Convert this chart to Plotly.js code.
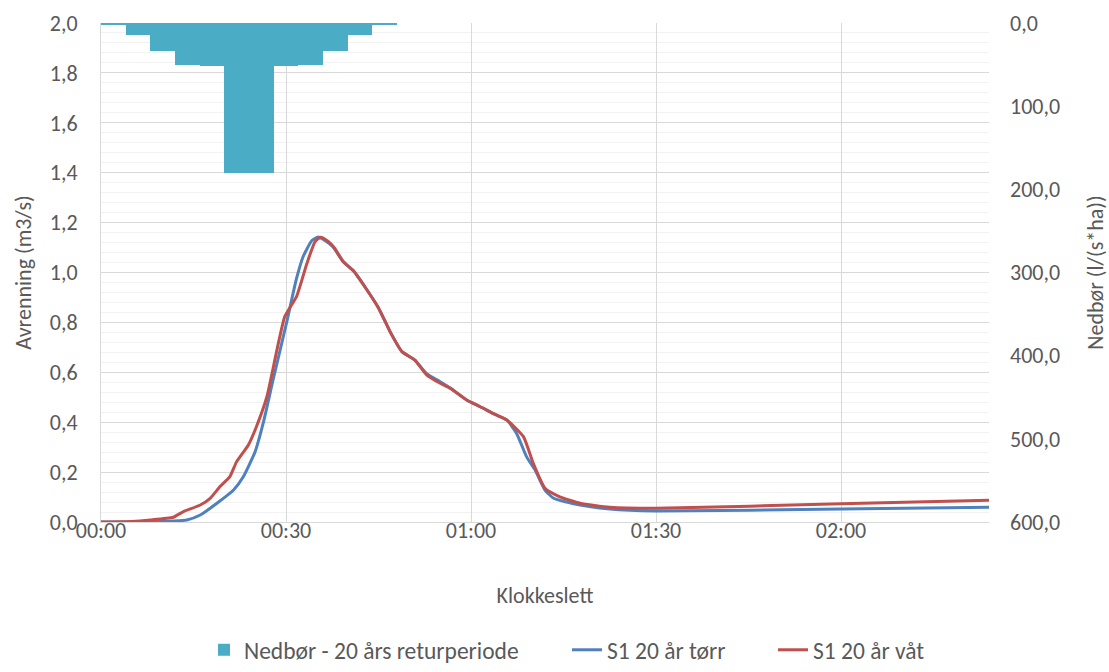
<!DOCTYPE html>
<html>
<head>
<meta charset="utf-8">
<script src="https://cdn.plot.ly/plotly-3.0.1.min.js"></script>
<style>html,body{margin:0;padding:0;background:#fff;}#chart{width:1109px;height:672px;}</style>
</head>
<body>
<div id="chart"></div>
<script>
// Rainfall (l/(s*ha)), 4-minute blocks, block centre in minutes
const rainTime = [2, 6, 10, 14, 18, 22, 26, 30, 34, 38, 42, 46];
const rainValue = [2, 14, 34, 51, 52, 180, 180, 52, 51, 34, 14, 2];

// S1 20 år tørr (minutes, m3/s)
const dryTime = [0, 7, 10, 13.9, 16.1, 18.8, 21.5, 23.1, 25, 26.3, 27.9, 30.2, 31.7, 32.8, 34.2, 35.2, 36.5, 37.6, 39.3, 41, 43, 45, 47, 48.8, 50.9, 52.8, 55, 56.6, 59.3, 61.5, 64, 65.8, 67.4, 69, 70.4, 72, 73.4, 75.5, 77.7, 82.5, 90, 120, 144];
const dryValue = [0, 0, 0.002, 0.008, 0.028, 0.075, 0.128, 0.182, 0.282, 0.396, 0.569, 0.81, 0.975, 1.065, 1.128, 1.142, 1.125, 1.103, 1.043, 1.005, 0.935, 0.858, 0.757, 0.683, 0.649, 0.595, 0.562, 0.538, 0.489, 0.462, 0.43, 0.409, 0.355, 0.262, 0.208, 0.128, 0.095, 0.08, 0.068, 0.052, 0.044, 0.052, 0.059];

// S1 20 år våt (minutes, m3/s)
const wetTime = [0, 5, 8, 11.7, 13.3, 16.1, 17.7, 19.3, 20.9, 22, 23.9, 25.2, 26.9, 29.8, 31.7, 33.4, 34.7, 35.6, 36.8, 37.8, 39.3, 41, 43, 45, 47, 48.8, 50.9, 52.8, 55, 56.6, 59.3, 61.5, 64, 65.8, 68.5, 70.1, 72, 74.4, 77.7, 82.5, 90, 120, 144];
const wetValue = [0, 0.002, 0.008, 0.019, 0.041, 0.068, 0.095, 0.142, 0.182, 0.242, 0.309, 0.382, 0.502, 0.823, 0.903, 1.037, 1.123, 1.141, 1.125, 1.1, 1.043, 1.005, 0.935, 0.858, 0.757, 0.683, 0.649, 0.59, 0.556, 0.536, 0.489, 0.462, 0.43, 0.409, 0.342, 0.235, 0.135, 0.101, 0.075, 0.059, 0.055, 0.073, 0.087];

const xTickVals = [0, 30, 60, 90, 120];
const xTickText = ['00:00', '00:30', '01:00', '01:30', '02:00'];

const FONT = 'Carlito, Lato, sans-serif';
const TXT = '#595959';

const traces = [
  {
    type: 'bar', x: rainTime, y: rainValue, yaxis: 'y2', width: 4,
    name: 'Nedbør - 20 års returperiode', legend: 'legend',
    marker: {color: '#4BACC6', line: {width: 0, color: '#4BACC6'}},
    hoverinfo: 'x+y'
  },
  {
    type: 'scatter', mode: 'lines', x: dryTime, y: dryValue,
    name: 'S1 20 år tørr', legend: 'legend2',
    line: {color: '#4F81BD', width: 3, shape: 'spline', smoothing: 0.5}
  },
  {
    type: 'scatter', mode: 'lines', x: wetTime, y: wetValue,
    name: 'S1 20 år våt', legend: 'legend3',
    line: {color: '#C0504D', width: 3, shape: 'spline', smoothing: 0.5}
  }
];

const legBase = {
  orientation: 'h', xref: 'container', yref: 'container', xanchor: 'left',
  y: -0.008, yanchor: 'bottom', bgcolor: 'rgba(0,0,0,0)',
  font: {family: FONT, size: 23.5, color: TXT}
};

const layout = {
  width: 1109, height: 672,
  margin: {l: 101, r: 120, t: 23, b: 150, pad: 0, autoexpand: false},
  paper_bgcolor: '#ffffff', plot_bgcolor: '#ffffff',
  separators: ', ',
  font: {family: FONT, size: 22, color: TXT},
  bargap: 0,
  showlegend: true,
  legend: Object.assign({}, legBase, {x: 204 / 1109}),
  legend2: Object.assign({}, legBase, {x: 567 / 1109}),
  legend3: Object.assign({}, legBase, {x: 773 / 1109}),
  xaxis: {
    range: [0, 144], tickvals: xTickVals, ticktext: xTickText,
    showgrid: true, gridcolor: '#d9d9d9', gridwidth: 1,
    showline: true, linecolor: '#d9d9d9', linewidth: 1,
    zeroline: false, ticks: '', ticklen: 0, ticklabelstandoff: -11,
    tickfont: {family: FONT, size: 22, color: TXT},
    title: {text: 'Klokkeslett', font: {family: FONT, size: 22, color: TXT}, standoff: 44},
    automargin: false
  },
  yaxis: {
    range: [0, 2], dtick: 0.2, tick0: 0, tickformat: '.1f',
    showgrid: true, gridcolor: '#d9d9d9', gridwidth: 1,
    minor: {dtick: 0.04, showgrid: true, gridcolor: '#f2f2f2', gridwidth: 1},
    showline: true, linecolor: '#d9d9d9', linewidth: 1,
    zeroline: false, ticks: '', ticklabelstandoff: 18,
    tickfont: {family: FONT, size: 22, color: TXT},
    title: {text: 'Avrenning (m3/s)', font: {family: FONT, size: 22, color: TXT}, standoff: 12},
    automargin: false
  },
  yaxis2: {
    overlaying: 'y', side: 'right',
    range: [600, 0], dtick: 100, tick0: 0, tickformat: '.1f',
    showgrid: false, showline: false, zeroline: false, ticks: '', ticklabelstandoff: 20,
    tickfont: {family: FONT, size: 22, color: TXT},
    title: {text: 'Nedbør (l/(s*ha))', font: {family: FONT, size: 22, color: TXT}, standoff: 28},
    automargin: false
  }
};

Plotly.newPlot('chart', traces, layout, {displayModeBar: false, staticPlot: true});
</script>
</body>
</html>
